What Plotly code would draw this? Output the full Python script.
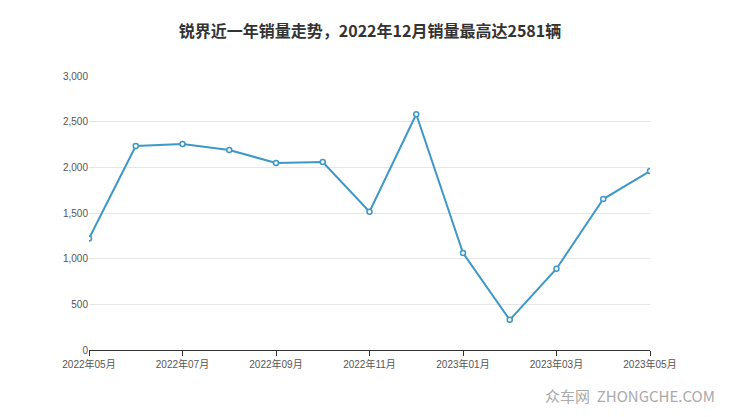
import plotly.graph_objects as go

months = ["2022年05月", "2022年06月", "2022年07月", "2022年08月", "2022年09月", "2022年10月",
          "2022年11月", "2022年12月", "2023年01月", "2023年02月", "2023年03月", "2023年04月",
          "2023年05月"]
sales = [1220, 2234, 2256, 2190, 2048, 2059, 1515, 2581, 1062, 330, 890, 1653, 1960]
tick_labels = months[::2]

fig = go.Figure()
fig.add_trace(go.Scatter(
    x=months, y=sales, mode="lines+markers",
    line=dict(color="#3d98c8", width=2),
    marker=dict(size=5, color="white", line=dict(color="#3d98c8", width=1.5)),
))

fig.update_layout(
    width=724, height=401,
    margin=dict(l=81, r=82, t=68, b=59),
    paper_bgcolor="white", plot_bgcolor="white",
    font=dict(family="Liberation Sans, Noto Sans CJK SC", size=11, color="#555"),
    title=dict(text="<b>锐界近一年销量走势，2022年12月销量最高达2581辆</b>",
               x=0.5, y=0.955, xanchor="center",
               font=dict(family="Noto Sans CJK SC", size=16, color="#333")),
    showlegend=False,
    xaxis=dict(type="category", range=[0, len(months) - 1],
               tickvals=tick_labels, ticktext=tick_labels, showgrid=False,
               showline=True, linecolor="#333", ticks="outside", ticklen=5,
               tickcolor="#333", tickfont=dict(size=10)),
    yaxis=dict(range=[0, 3000], dtick=500, tickformat=",", gridcolor="#e6e6e6",
               zeroline=False, tickfont=dict(size=10)),
)
fig.add_annotation(text="众车网  ZHONGCHE.COM", xref="paper", yref="paper",
                   x=1.12, y=-0.12, xanchor="right", yanchor="top", showarrow=False,
                   font=dict(family="Noto Sans CJK SC", size=15, color="#aaaaaa"))

fig.write_html("out.html")
